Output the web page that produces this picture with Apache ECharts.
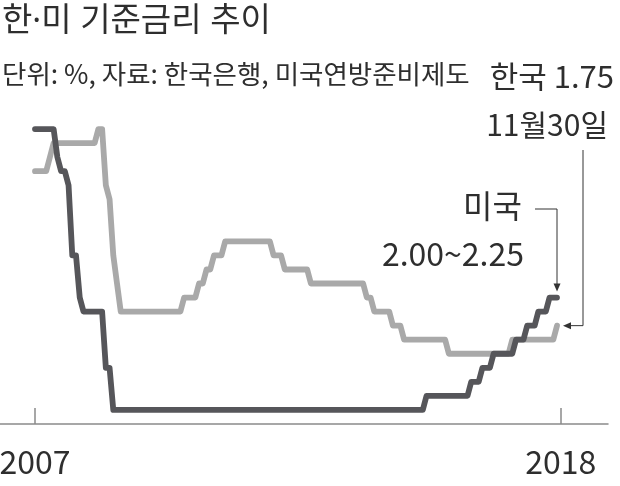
<!DOCTYPE html>
<html><head><meta charset="utf-8">
<script src="https://cdn.jsdelivr.net/npm/echarts@6/dist/echarts.min.js"></script>
<style>html,body{margin:0;padding:0;background:#fff}#c{width:620px;height:486px}</style>
</head><body><div id="c"></div>
<script>
// ---- data (month-end policy rates, %) ----
const firstMonth = '2007-03';
const lastMonth = '2018-11';
// Korea (BOK base rate): [month, rate from that month on]
const koreaChanges = [
  ['2007-03', 4.50], ['2007-07', 4.75], ['2007-08', 5.00], ['2008-08', 5.25],
  ['2008-10', 4.25], ['2008-11', 4.00], ['2008-12', 3.00], ['2009-01', 2.50],
  ['2009-02', 2.00], ['2010-07', 2.25], ['2010-11', 2.50], ['2011-01', 2.75],
  ['2011-03', 3.00], ['2011-06', 3.25], ['2012-07', 3.00], ['2012-10', 2.75],
  ['2013-05', 2.50], ['2014-08', 2.25], ['2014-10', 2.00], ['2015-03', 1.75],
  ['2015-06', 1.50], ['2016-06', 1.25], ['2017-11', 1.50], ['2018-11', 1.75]
];
// US (Fed funds target, upper bound)
const usChanges = [
  ['2007-03', 5.25], ['2007-09', 4.75], ['2007-10', 4.50], ['2007-12', 4.25],
  ['2008-01', 3.00], ['2008-03', 2.25], ['2008-04', 2.00], ['2008-10', 1.00],
  ['2008-12', 0.25], ['2015-12', 0.50], ['2016-12', 0.75], ['2017-03', 1.00],
  ['2017-06', 1.25], ['2017-12', 1.50], ['2018-03', 1.75], ['2018-06', 2.00],
  ['2018-09', 2.25]
];
const tickMonths = ['2007-03', '2018-12'];
const tickLabels = ['2007', '2018'];
const titleText = '한·미 기준금리 추이';
const subtitleText = '단위: %, 자료: 한국은행, 미국연방준비제도';
const koreaLabel1 = ['한국 ', '1.75'];
const koreaLabel2 = ['11', '월', '30', '일'];
const usLabel1 = '미국';
const usLabel2 = '2.00~2.25';

// ---- helpers: x = months since firstMonth ----
function monthIdx(m) {
  const a = firstMonth.split('-').map(Number), b = m.split('-').map(Number);
  return (b[0] - a[0]) * 12 + (b[1] - a[1]);
}
function monthly(changes) {
  const n = monthIdx(lastMonth);
  const out = []; let j = 0, v = null;
  for (let i = 0; i <= n; i++) {
    while (j < changes.length && monthIdx(changes[j][0]) <= i) { v = changes[j][1]; j++; }
    out.push([i, v]);
  }
  return out;
}
const koreaData = monthly(koreaChanges);
const usData = monthly(usChanges);

// ---- layout ----
const GRID_LEFT = 0, GRID_W = 608, X0 = 35, X1 = 557;
const i1 = monthIdx(lastMonth);
const xMin = -i1 * X0 / (X1 - X0);
const xMax = i1 + i1 * (GRID_W - X1) / (X1 - X0);
const tickIdx = tickMonths.map(monthIdx);

const HANGUL = "'Noto Sans CJK KR', sans-serif";
const TITLEF = "'Noto Sans', 'Noto Sans CJK KR', sans-serif";
const NUM = "'Noto Sans CJK KR', sans-serif";
const TXT = '#2e2e2e';

const chart = echarts.init(document.getElementById('c'), null, { renderer: 'canvas' });
const option = {
  animation: false,
  backgroundColor: '#fff',
  grid: { left: GRID_LEFT, width: GRID_W, top: 115, bottom: 48, containLabel: false, outerBoundsMode: 'none' },
  xAxis: {
    type: 'value', min: xMin, max: xMax,
    axisLine: { show: true, lineStyle: { color: '#8a8a8a', width: 1.5 } },
    axisTick: { show: true, inside: true, length: 16, customValues: tickIdx, lineStyle: { color: '#8a8a8a', width: 1.5 } },
    axisLabel: {
      show: true, customValues: tickIdx, margin: 8, color: TXT, fontFamily: NUM, fontSize: 32,
      formatter: function (v) {
        let best = 0; tickIdx.forEach((t, i) => { if (Math.abs(t - v) < Math.abs(tickIdx[best] - v)) best = i; });
        return tickLabels[best];
      }
    },
    splitLine: { show: false }
  },
  yAxis: { type: 'value', min: -0.25, max: 5.5, show: false, splitLine: { show: false } },
  series: [
    { name: '한국', type: 'line', data: koreaData, showSymbol: false, z: 2,
      lineStyle: { color: '#a9a9a9', width: 5.8, cap: 'round', join: 'round' } },
    { name: '미국', type: 'line', data: usData, showSymbol: false, z: 3,
      lineStyle: { color: '#56565a', width: 5.8, cap: 'round', join: 'round' } }
  ]
};
chart.setOption(option);

const pk = chart.convertToPixel({ xAxisIndex: 0, yAxisIndex: 0 }, koreaData[koreaData.length - 1]);
const pu = chart.convertToPixel({ xAxisIndex: 0, yAxisIndex: 0 }, usData[usData.length - 1]);

function txt(text, x, y, size, family, align) {
  return { type: 'text', silent: true, z: 10,
    style: { text: text, x: x, y: y, fill: TXT, fontSize: size, fontFamily: family,
      align: align, textAlign: align, verticalAlign: 'middle', textVerticalAlign: 'middle' } };
}
function richTxt(parts, kinds, x, y, align, hs, ns) {
  let s = '';
  parts.forEach((p, i) => { s += '{' + kinds[i] + '|' + p + '}'; });
  return { type: 'text', silent: true, z: 10,
    style: { text: s, x: x, y: y, fill: TXT, align: align, textAlign: align,
      verticalAlign: 'middle', textVerticalAlign: 'middle',
      rich: {
        h: { fontFamily: HANGUL, fontSize: hs, fill: TXT, verticalAlign: 'middle' },
        n: { fontFamily: NUM, fontSize: ns, fill: TXT, verticalAlign: 'middle' }
      } } };
}
const LC = '#333';
const kx = 583, ky0 = 150;
const uy = 209, ux0 = 535;
const graphics = [
  txt(titleText, 2, 22, 33, TITLEF, 'left'),
  txt(subtitleText, 2, 74, 26.5, HANGUL, 'left'),
  richTxt(koreaLabel1, ['h', 'n'], 614, 76, 'right', 31, 31),
  richTxt(koreaLabel2, ['n', 'h', 'n', 'h'], 608, 125, 'right', 30, 30),
  txt(usLabel1, 522, 206, 32, HANGUL, 'right'),
  txt(usLabel2, 524, 254, 32, NUM, 'right'),
  { type: 'polyline', silent: true, z: 10, shape: { points: [[kx, ky0], [kx, pk[1]], [pk[0] + 12, pk[1]]] },
    style: { stroke: LC, lineWidth: 1, fill: null } },
  { type: 'polygon', silent: true, z: 10, shape: { points: [[pk[0] + 6, pk[1]], [pk[0] + 14, pk[1] - 3.5], [pk[0] + 14, pk[1] + 3.5]] },
    style: { fill: LC } },
  { type: 'polyline', silent: true, z: 10, shape: { points: [[ux0, uy], [pu[0], uy], [pu[0], pu[1] - 12]] },
    style: { stroke: LC, lineWidth: 1, fill: null } },
  { type: 'polygon', silent: true, z: 10, shape: { points: [[pu[0], pu[1] - 6], [pu[0] - 3.5, pu[1] - 14], [pu[0] + 3.5, pu[1] - 14]] },
    style: { fill: LC } }
];
chart.setOption({ graphic: graphics });
</script>
</body></html>
